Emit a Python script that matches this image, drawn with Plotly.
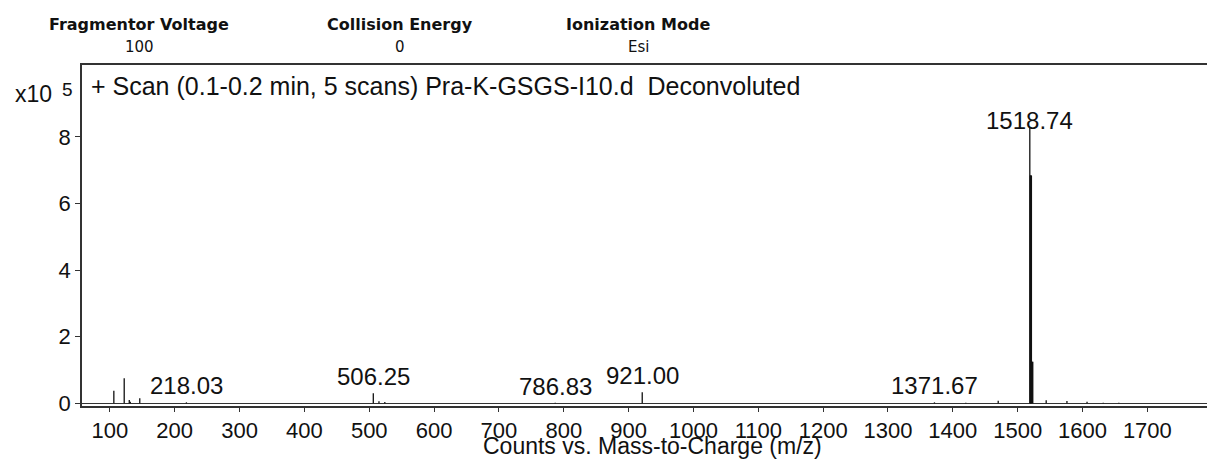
import plotly.graph_objects as go

# Peak list (m/z, intensity in units of 10^5 counts)
peak_mz = [106.1, 122.1, 129.9, 131.5, 146.1, 218.03, 395.0, 506.25, 515.0, 524.0,
           786.83, 921.00, 1371.67, 1420.0, 1470.0, 1518.74, 1519.4, 1520.0, 1520.6,
           1521.2, 1522.6, 1523.3, 1544.0, 1576.0, 1607.0, 1632.0, 1656.0]
peak_int = [0.38, 0.75, 0.10, 0.05, 0.15, 0.03, 0.01, 0.30, 0.06, 0.04,
            0.02, 0.33, 0.03, 0.02, 0.08, 8.28, 6.84, 6.84, 6.84,
            6.84, 1.25, 1.25, 0.09, 0.07, 0.05, 0.02, 0.015]

label_mz = [218.03, 506.25, 786.83, 921.00, 1371.67, 1518.74]
label_int = [0.03, 0.30, 0.02, 0.33, 0.03, 8.28]
label_text = ["218.03", "506.25", "786.83", "921.00", "1371.67", "1518.74"]

x_ticks = list(range(100, 1800, 100))
y_ticks = [0, 2, 4, 6, 8]

header_names = ["Fragmentor Voltage", "Collision Energy", "Ionization Mode"]
header_values = ["100", "0", "Esi"]

title_text = "+ Scan (0.1-0.2 min, 5 scans) Pra-K-GSGS-I10.d &nbsp;Deconvoluted"
x_title = "Counts vs. Mass-to-Charge (m/z)"

# build stick spectrum
xs, ys = [], []
for m, h in zip(peak_mz, peak_int):
    xs += [m, m, None]
    ys += [0, h, None]

fig = go.Figure()
fig.add_trace(go.Scatter(x=xs, y=ys, mode="lines",
                         line=dict(color="#111111", width=1.3),
                         hoverinfo="skip", showlegend=False))

MAIN_FONT = "Liberation Sans, Arial, sans-serif"
TXT = "#111"

annotations = []
for m, h, t in zip(label_mz, label_int, label_text):
    annotations.append(dict(x=m, y=h, xref="x", yref="y", text=t, showarrow=False,
                            yanchor="bottom", xanchor="center",
                            yshift=-8 if h > 5 else 1,
                            font=dict(family=MAIN_FONT, size=24, color=TXT)))

# title inside plot
annotations.append(dict(x=0, y=1, xref="paper", yref="paper", text=title_text,
                        showarrow=False, xanchor="left", yanchor="middle",
                        xshift=7, yshift=-21,
                        font=dict(family=MAIN_FONT, size=25, color=TXT)))
# exponent label
annotations.append(dict(x=0, y=1, xref="paper", yref="paper",
                        text="x10", showarrow=False,
                        xanchor="center", yanchor="middle", xshift=-49, yshift=-29,
                        font=dict(family=MAIN_FONT, size=23, color=TXT)))
annotations.append(dict(x=0, y=1, xref="paper", yref="paper",
                        text="5", showarrow=False,
                        xanchor="center", yanchor="middle", xshift=-15, yshift=-24,
                        font=dict(family=MAIN_FONT, size=19, color=TXT)))
# x axis title
annotations.append(dict(x=0.507, y=0, xref="paper", yref="paper", text=x_title,
                        showarrow=False, xanchor="center", yanchor="middle",
                        yshift=-40,
                        font=dict(family=MAIN_FONT, size=23, color=TXT)))

# header
header_px = [139, 400, 638]
for px, name, val in zip(header_px, header_names, header_values):
    annotations.append(dict(x=(px - 82) / 1125, y=1, xref="paper", yref="paper",
                            text="<b>" + name + "</b>", showarrow=False,
                            xanchor="center", yanchor="middle", yshift=41,
                            font=dict(family="DejaVu Sans", size=16, color=TXT)))
    annotations.append(dict(x=(px - 82) / 1125, y=1, xref="paper", yref="paper",
                            text=val, showarrow=False,
                            xanchor="center", yanchor="middle", yshift=18,
                            font=dict(family="DejaVu Sans", size=15, color=TXT)))

fig.update_layout(
    width=1207, height=460,
    margin=dict(l=82, r=0, t=65, b=54),
    paper_bgcolor="white", plot_bgcolor="white",
    annotations=annotations,
    xaxis=dict(range=[57, 1792], tickvals=x_ticks, ticks="outside", ticklen=4,
               tickcolor="#333", showline=True, linecolor="#333", linewidth=1.5,
               mirror=True, showgrid=False, zeroline=False,
               tickfont=dict(family=MAIN_FONT, size=22, color=TXT)),
    yaxis=dict(range=[-0.08, 10.16], tickvals=y_ticks, ticks="outside", ticklen=5,
               tickcolor="#333", showline=True, linecolor="#333", linewidth=1.5,
               mirror=False, showgrid=False, zeroline=True, zerolinecolor="#333",
               zerolinewidth=1,
               tickfont=dict(family=MAIN_FONT, size=22, color=TXT)),
)

fig.write_html("out.html")
